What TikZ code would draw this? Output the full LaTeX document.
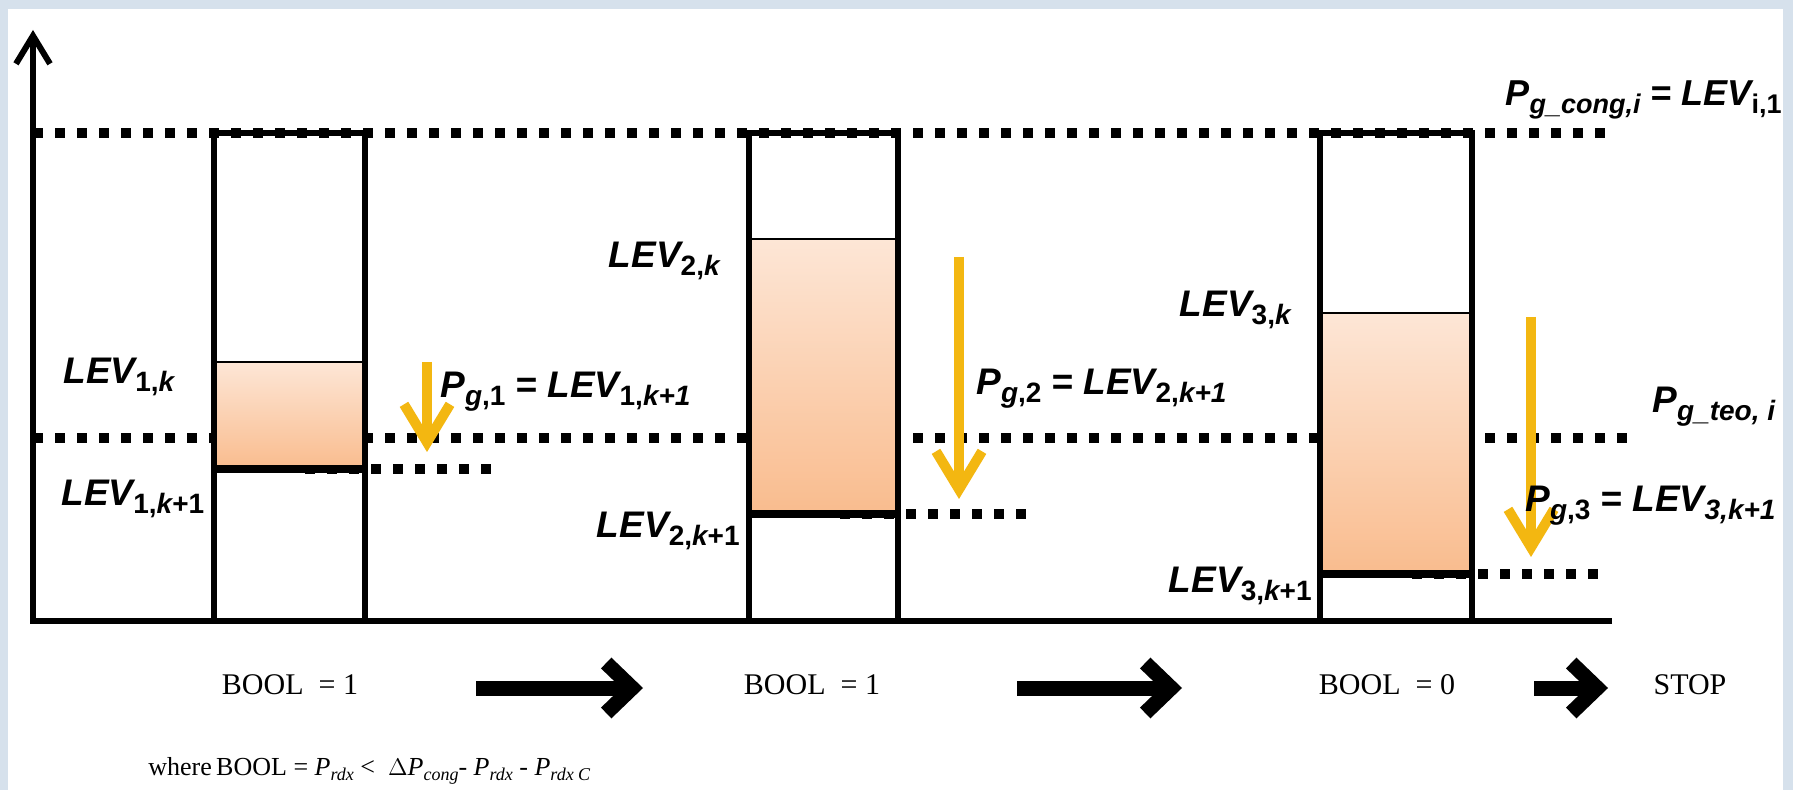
\documentclass[tikz,border=0pt]{standalone}
\usepackage{fontspec}
\newfontfamily\labfont{Liberation Sans}
\newfontfamily\serifont{Liberation Serif}
\usetikzlibrary{arrows.meta}
\definecolor{edgeblue}{RGB}{214,225,236}
\definecolor{peachtop}{RGB}{253,230,214}
\definecolor{peachbot}{RGB}{249,188,142}
\definecolor{gold}{RGB}{243,183,17}
\newcommand{\lsub}[1]{\raisebox{-4pt}{\fontsize{14pt}{14pt}\selectfont #1}}
\newcommand{\lsubs}[1]{\raisebox{-4pt}{\fontsize{13.5pt}{14pt}\selectfont #1}}
\newcommand{\up}[1]{{\upshape #1}}
\newcommand{\isub}[2]{\textit{#1}\raisebox{-2.5pt}{\fontsize{9pt}{9pt}\selectfont\textit{#2}}}
\begin{document}
\begin{tikzpicture}[x=0.5pt,y=-0.5pt,
  axisline/.style={line width=3pt, line join=miter},
  boxline/.style={line width=3pt, line join=miter},
  levline/.style={line width=1.3pt},
  thickline/.style={line width=3.8pt},
  dotline/.style={line width=5pt, dash pattern=on 5pt off 6pt},
  goldarrow/.style={draw=gold, line width=5pt, -{Straight Barb[length=19pt,width=23pt]}},
  blackarrow/.style={line width=7.5pt, -{Straight Barb[length=13pt,width=25pt]}},
  peach/.style={top color=peachtop, bottom color=peachbot},
  lab/.style={font=\labfont\bfseries\itshape\fontsize{18.5pt}{20pt}\selectfont, inner sep=0pt},
  serif/.style={font=\serifont\fontsize{15pt}{17pt}\selectfont, inner sep=0pt},
  smallserif/.style={font=\serifont\fontsize{13pt}{15pt}\selectfont, inner sep=0pt}
]
\useasboundingbox (0,0) rectangle (1793,790);
% background frame
\fill[edgeblue] (0,0) rectangle (1793,790);
\fill[white] (8,9) rectangle (1783,790);

% dotted level lines
\draw[dotline] (33,133) -- (1615,133);
\draw[dotline] (33,438) -- (1632,438);
\draw[dotline] (305,469) -- (500,469);
\draw[dotline] (840,514) -- (1032,514);
\draw[dotline] (1412,574) -- (1603,574);

% box 1
\fill[peach] (214,362) rectangle (365,469);
\draw[levline] (214,362) -- (365,362);
\draw[thickline] (214,469) -- (365,469);
\draw[boxline] (214,621) -- (214,133) -- (365,133) -- (365,621);
% box 2
\fill[peach] (749,239) rectangle (898,514);
\draw[levline] (749,239) -- (898,239);
\draw[thickline] (749,514) -- (898,514);
\draw[boxline] (749,621) -- (749,133) -- (898,133) -- (898,621);
% box 3
\fill[peach] (1320,313) rectangle (1472,574);
\draw[levline] (1320,313) -- (1472,313);
\draw[thickline] (1320,574) -- (1472,574);
\draw[boxline] (1320,621) -- (1320,133) -- (1472,133) -- (1472,621);

% axes
\coordinate (xend) at (1612,621);
\coordinate (origin) at (33,621);
\coordinate (ytop) at (33,30);
\draw[axisline, -{Straight Barb[length=14pt,width=17pt]}] (xend) -- (origin) -- (ytop);

% yellow arrows
\coordinate (g1s) at (427,362); \coordinate (g1e) at (427,452);
\coordinate (g2s) at (959,257); \coordinate (g2e) at (959,499);
\coordinate (g3s) at (1531,317); \coordinate (g3e) at (1531,557);
\draw[goldarrow] (g1s) -- (g1e);
\draw[goldarrow] (g2s) -- (g2e);
\draw[goldarrow] (g3s) -- (g3e);

% labels
\node[lab, anchor=base west] (lev1k) at (63,384) {LEV\lsub{\up{1,}k}};
\node[lab, anchor=base west] (lev1k1) at (61,506) {LEV\lsub{\up{1,}k\up{+1}}};
\node[lab, anchor=base east] (lev2k) at (720,268) {LEV\lsub{\up{2,}k}};
\node[lab, anchor=base east] (lev2k1) at (740,538) {LEV\lsub{\up{2,}k\up{+1}}};
\node[lab, anchor=base east] (lev3k) at (1291,317) {LEV\lsub{\up{3,}k}};
\node[lab, anchor=base east] (lev3k1) at (1312,593) {LEV\lsub{\up{3,}k\up{+1}}};
\node[lab, anchor=base west] (pg1) at (440,398) {P\lsub{g\up{,1}} = LEV\lsub{\up{1,}k+1}};
\node[lab, anchor=base west] (pg2) at (976,395) {P\lsub{g\up{,2}} = LEV\lsub{\up{2,}k+1}};
\node[lab, anchor=base west] (pg3) at (1525,512) {P\lsub{g\up{,3}} = LEV\lsub{3,k+1}};
\node[lab, anchor=base west] (pteo) at (1652,413) {P\lsub{g\_teo, i}};
\node[lab, font=\labfont\bfseries\itshape\fontsize{18pt}{20pt}\selectfont, anchor=base east] (pcong) at (1782,106) {P\lsubs{g\_cong,i} = LEV\lsubs{\up{i,1}}};

% bottom row
\node[serif, anchor=base] (bool1) at (290,694) {BOOL\ \ = 1};
\node[serif, anchor=base] (bool2) at (812,694) {BOOL\ \ = 1};
\node[serif, anchor=base] (bool3) at (1387,694) {BOOL\ \ = 0};
\node[serif, anchor=base] (stop) at (1690,694) {STOP};
\coordinate (b1s) at (476,688); \coordinate (b1e) at (643,688);
\coordinate (b2s) at (1017,688); \coordinate (b2e) at (1182,688);
\coordinate (b3s) at (1534,688); \coordinate (b3e) at (1608,688);
\draw[blackarrow] (b1s) -- (b1e);
\draw[blackarrow] (b2s) -- (b2e);
\draw[blackarrow] (b3s) -- (b3e);
\node[smallserif, anchor=base west] (where) at (148,775) {where\,BOOL = \isub{P}{rdx} <\ \ \(\Delta\)\isub{P}{cong}- \isub{P}{rdx} - \isub{P}{rdx\ C}};
\end{tikzpicture}
\end{document}
